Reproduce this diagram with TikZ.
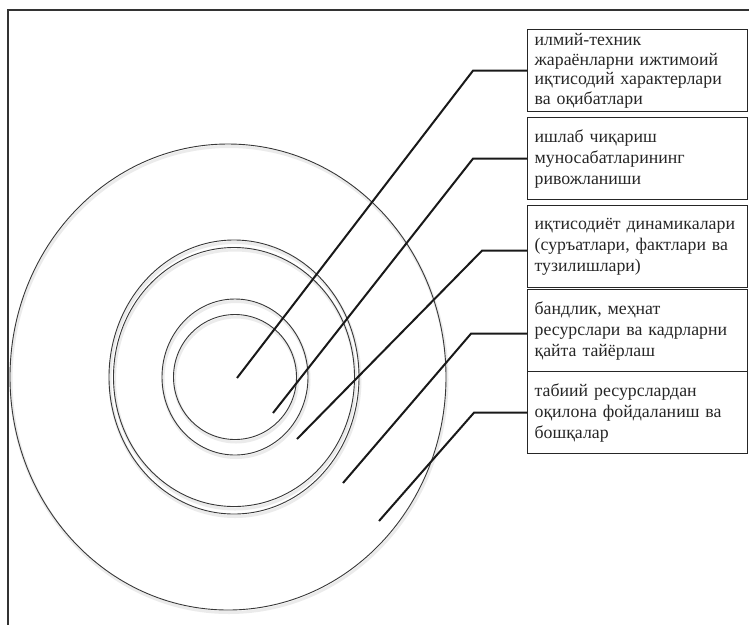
\documentclass[tikz,border=0pt]{standalone}
\usepackage{fontspec}
\setmainfont{Liberation Serif}
\begin{document}
\begin{tikzpicture}[x=1pt,y=-1pt,
  ring/.style={draw=black!78,line width=0.9pt},
  ringshadow/.style={draw=black!8,line width=3pt},
  leader/.style={draw=black!90,line width=2pt},
  infobox/.style={draw=black!85,line width=1.3pt,anchor=north west,
    minimum width=220pt,minimum height=82pt,text width=206pt,
    align=left,inner xsep=7pt,inner ysep=0pt,
    font=\fontsize{17.8pt}{21pt}\selectfont,text=black!85},
  tightbox/.style={infobox,font=\fontsize{17.8pt}{19.6pt}\selectfont},
  frameline/.style={draw=black!80,line width=1.3pt}]
\useasboundingbox (0,0) rectangle (749,625);

% frame lines along the top and left edges
\draw[frameline] (749,10) -- (8,10) -- (8,625);

% soft shadows under the rings
\begin{scope}[shift={(1,2.5)}]
  \draw[ringshadow] (228,377) ellipse [x radius=218, y radius=233];
  \draw[ringshadow] (234,377) ellipse [x radius=125, y radius=137];
  \draw[ringshadow] (234,377) ellipse [x radius=120.5, y radius=129.5];
  \draw[ringshadow] (235,377) ellipse [x radius=73, y radius=78];
  \draw[ringshadow] (235,377) ellipse [x radius=61.5, y radius=62.5];
\end{scope}

% concentric rings
\draw[ring] (228,377) ellipse [x radius=218, y radius=233];
\draw[ring] (234,377) ellipse [x radius=125, y radius=137];
\draw[ring] (234,377) ellipse [x radius=120.5, y radius=129.5];
\draw[ring] (235,377) ellipse [x radius=73, y radius=78];
\draw[ring] (235,377) ellipse [x radius=61.5, y radius=62.5];

% label boxes
\node[tightbox] (b1) at (527,29) {илмий-техник\\жараёнларни ижтимоий\\иқтисодий характерлари\\ва оқибатлари};
\node[infobox] (b2) at (527,117) {ишлаб чиқариш\\муносабатларининг\\ривожланиши};
\node[infobox] (b3) at (527,205) {иқтисодиёт динамикалари\\(суръатлари, фактлари ва\\тузилишлари)};
\node[infobox] (b4) at (527,289) {бандлик, меҳнат\\ресурслари ва кадрларни\\қайта тайёрлаш};
\node[infobox] (b5) at (527,371) {табиий ресурслардан\\оқилона фойдаланиш ва\\бошқалар};

% free ends of the leaders inside the rings
\coordinate (p1) at (237,378);
\coordinate (p2) at (273,413);
\coordinate (p3) at (297,439);
\coordinate (p4) at (343,483);
\coordinate (p5) at (379,521);

% leader lines
\draw[leader] (p1) -- ([xshift=-54pt]b1.west) -- (b1.west);
\draw[leader] (p2) -- ([xshift=-54pt]b2.west) -- (b2.west);
\draw[leader] (p3) -- ([xshift=-45pt,yshift=-4pt]b3.west) -- ([yshift=-4pt]b3.west);
\draw[leader] (p4) -- ([xshift=-56pt,yshift=-3pt]b4.west) -- ([yshift=-3pt]b4.west);
\draw[leader] (p5) -- ([xshift=-53pt]b5.west) -- (b5.west);
\end{tikzpicture}
\end{document}
